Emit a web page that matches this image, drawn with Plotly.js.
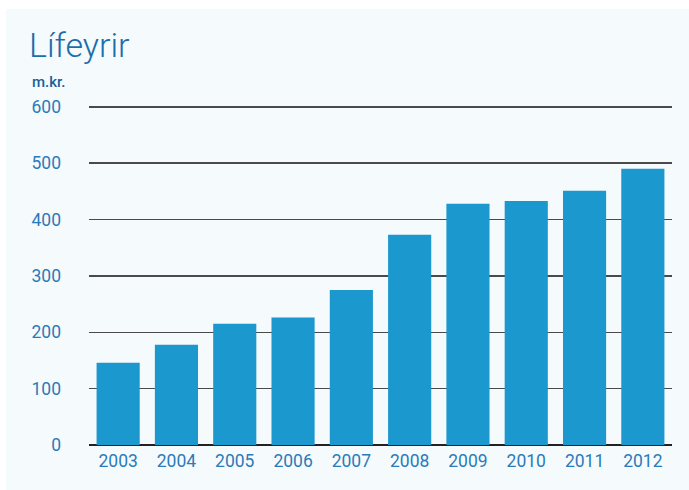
<!DOCTYPE html>
<html>
<head>
<meta charset="utf-8">
<script src="https://cdn.plot.ly/plotly-3.0.1.min.js"></script>
<style>
  html, body { margin: 0; padding: 0; background: #ffffff; }
  #chart { position: absolute; left: 6px; top: 9px; width: 683px; height: 481px; }
</style>
</head>
<body>
<div id="chart"></div>
<script>
// Lífeyrir, m.kr.
const years = ['2003', '2004', '2005', '2006', '2007', '2008', '2009', '2010', '2011', '2012'];
const pension = [146, 178, 215, 226, 275, 373, 428, 433, 451, 490];
const yTicks = [0, 100, 200, 300, 400, 500, 600];

const blue = '#1b98cd';
const labelColor = '#2b7bb8';

const data = [{
    type: 'bar',
    x: years,
    y: pension,
    marker: { color: blue, line: { width: 0 } },
    hoverinfo: 'x+y'
}];

const layout = {
    width: 683,
    height: 481,
    paper_bgcolor: '#f5fafd',
    plot_bgcolor: '#f5fafd',
    margin: { l: 83, r: 17, t: 95, b: 45 },
    bargap: 0.26,
    showlegend: false,
    font: { family: 'Roboto, "Open Sans", sans-serif', color: labelColor },
    title: {
        text: 'Lífeyrir',
        font: { family: 'Roboto, sans-serif', size: 34, weight: 300, color: '#1a6eaa' },
        x: 23 / 683,
        xanchor: 'left',
        xref: 'container',
        y: 1 - 36 / 481,
        yanchor: 'middle',
        yref: 'container'
    },
    xaxis: {
        type: 'category',
        showgrid: false,
        showline: false,
        ticks: '',
        tickfont: { size: 17.5, color: labelColor },
        ticklabelstandoff: 3
    },
    yaxis: {
        // a little headroom so the 600 gridline is not clipped at the edge
        range: [0, 605],
        tickvals: yTicks,
        ticks: '',
        showline: false,
        gridcolor: '#4a4a4a',
        gridwidth: 1.5,
        zeroline: true,
        zerolinecolor: '#222222',
        zerolinewidth: 2,
        tickfont: { size: 17.5, color: labelColor },
        ticklabelstandoff: 27,
        fixedrange: true
    },
    annotations: [{
        text: 'm.kr.',
        xref: 'paper',
        yref: 'paper',
        x: (24 - 83) / 583,
        xanchor: 'left',
        y: 1 + 22 / 341,
        yanchor: 'middle',
        showarrow: false,
        font: { family: 'Roboto, sans-serif', size: 15, weight: 500, color: '#1a5f96' }
    }]
};

Plotly.newPlot('chart', data, layout, { displayModeBar: false, staticPlot: true });
</script>
</body>
</html>
